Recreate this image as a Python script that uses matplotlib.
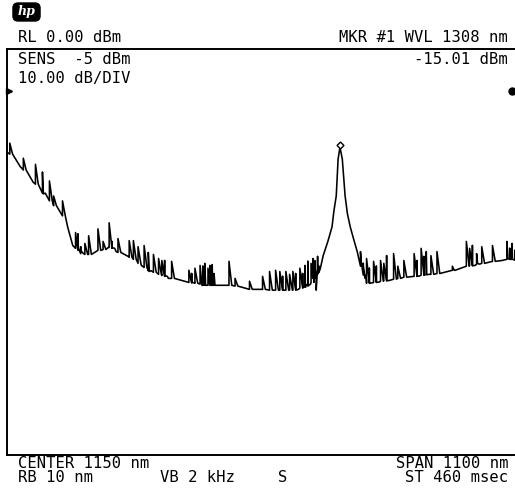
import matplotlib
matplotlib.use("Agg")
import matplotlib.pyplot as plt
from matplotlib.patches import FancyBboxPatch

# optical spectrum trace (wavelength nm, level dBm)
base_nm = [600, 628, 656, 678, 700, 719, 730, 741, 758, 773, 795, 817, 834, 860, 888, 905,
           946, 981, 1018, 1076, 1120, 1163, 1213, 1241, 1256, 1269, 1278, 1288, 1297, 1301,
           1306, 1310, 1314, 1319, 1325, 1330, 1336, 1343, 1351, 1360, 1368, 1371, 1414, 1488,
           1559, 1609, 1661, 1674, 1700]
base_dbm = [-25.4, -28.9, -32.8, -35.7, -38.6, -41.1, -43.8, -48.4, -50.4, -50.6, -49.6, -48.9,
            -49.9, -51.1, -53.3, -54.8, -56.5, -57.2, -58.2, -58.2, -59.2, -59.4, -59.4, -58.2,
            -56.5, -53.5, -50.9, -47.4, -43.8, -39.9, -36.2, -27.1, -24.2, -27.1, -36.2, -40.6,
            -43.8, -46.7, -49.9, -52.8, -56.5, -57.7, -57.0, -55.7, -54.5, -52.8, -52.1, -51.6,
            -52.3]

# noise spikes: position, tip level, foot level
spike_nm = [606, 635, 661, 676, 691, 700, 719, 747, 752, 775, 795, 806, 819, 838, 862, 871,
            881, 894, 914, 925, 938, 953, 990, 1003, 1014, 1024, 1035, 1040, 1076, 1089, 1120,
            1148, 1163, 1176, 1185, 1198, 1213, 1228, 1239, 1245, 1256, 1266, 1358, 1371, 1386,
            1401, 1414, 1429, 1451, 1473, 1488, 1499, 1509, 1522, 1555, 1585, 1598, 1618, 1641,
            1672, 1683, 1696,
            758, 767, 825, 903, 932, 996, 1020, 1031, 1044, 1191, 1206, 1219, 1234, 1252, 1260,
            1263, 1364, 1377, 1392, 1408, 1438, 1479, 1494, 1592, 1607, 1678, 1689]
spike_top = [-23.2, -26.9, -28.4, -30.3, -32.5, -36.2, -37.4, -45.2, -45.5, -46.0, -44.3, -47.4,
             -42.8, -46.7, -47.2, -47.2, -48.7, -48.4, -50.6, -51.6, -52.1, -52.3, -54.5, -54.0,
             -53.3, -52.8, -53.3, -53.1, -52.3, -56.5, -57.2, -56.0, -54.8, -54.5, -54.8, -54.8,
             -54.8, -54.0, -53.3, -52.3, -51.6, -51.1, -49.9, -51.6, -52.3, -52.1, -50.9, -50.4,
             -52.1, -50.4, -49.1, -49.9, -50.9, -49.9, -53.5, -47.4, -48.4, -48.7, -48.4, -47.4,
             -47.9, -47.9,
             -48.7, -47.9, -47.4, -50.1, -52.1, -55.3, -53.5, -54.0, -55.3, -56.0, -55.5, -55.3,
             -55.3, -52.8, -52.1, -59.4, -52.8, -54.0, -53.5, -52.8, -53.5, -52.1, -51.1, -49.1,
             -50.4, -49.1, -49.6]
spike_foot = [-25.9, -29.8, -33.3, -35.5, -37.4, -38.6, -41.1, -49.1, -49.6, -50.6, -49.6, -49.4,
              -48.9, -50.1, -51.3, -51.8, -52.8, -53.8, -55.0, -55.5, -56.0, -56.5, -57.5, -57.7,
              -57.9, -58.2, -58.2, -58.2, -58.2, -58.4, -59.2, -59.2, -59.4, -59.4, -59.4, -59.4,
              -59.4, -58.9, -58.4, -57.9, -56.5, -54.0, -53.5, -57.7, -57.5, -57.2, -57.0, -56.7,
              -56.2, -56.0, -55.7, -55.5, -55.5, -55.3, -54.5, -53.5, -53.3, -52.8, -52.3, -51.8,
              -51.8, -52.1,
              -50.4, -50.6, -49.1, -54.6, -55.8, -57.6, -58.2, -58.2, -58.2, -59.4, -59.4, -59.2,
              -58.7, -57.5, -55.5, -55.0, -55.7, -57.6, -57.4, -57.1, -56.5, -55.9, -55.6, -53.4,
              -53.0, -51.8, -52.0]

marker_nm, marker_dbm = 1314, -24.2

# merge baseline + spikes into one sweep
pts = [(n, 0, d) for n, d in zip(base_nm, base_dbm)]
for n, t, f in zip(spike_nm, spike_top, spike_foot):
    pts += [(n, 1, f), (n, 2, t), (n + 6, 3, f)]
pts.sort()
trace_x = [p[0] for p in pts]
trace_y = [p[2] for p in pts]

W, H = 515, 500
fig = plt.figure(figsize=(W / 100, H / 100), dpi=100)
ax = fig.add_axes([7 / W, 1 - 455 / H, 1.0, (455 - 49) / H])
ax.plot(trace_x, trace_y, color="black", lw=1.15)
ax.plot(marker_nm, marker_dbm + 0.6, marker="D", ms=3.5, mfc="white", mec="black", mew=1.0)
ax.set_xlim(600, 1700 + 1100 * 2 / 508)
ax.set_ylim(-100, 0)
ax.set_xticks([])
ax.set_yticks([])
ax.spines["right"].set_visible(False)
for s in ["left", "top", "bottom"]:
    ax.spines[s].set_linewidth(1.4)

font = dict(family="DejaVu Sans Mono", fontsize=11.2, color="black")


def txt(x, y, s, ha="left"):
    fig.text(x / W, 1 - y / H, s, ha=ha, va="baseline", **font)


txt(18, 42, "RL 0.00 dBm")
txt(508, 42, "MKR #1 WVL 1308 nm", "right")
txt(18, 64, "SENS  -5 dBm")
txt(508, 64, "-15.01 dBm", "right")
txt(18, 83, "10.00 dB/DIV")
txt(18, 468, "CENTER 1150 nm")
txt(508, 468, "SPAN 1100 nm", "right")
txt(18, 482, "RB 10 nm")
txt(160, 482, "VB 2 kHz")
txt(278, 482, "S")
txt(508, 482, "ST 460 msec", "right")

# reference level markers
fig.lines.append(plt.Line2D([9 / W], [1 - 91 / H], marker=">", ms=4, color="black",
                            transform=fig.transFigure))
fig.lines.append(plt.Line2D([512 / W], [1 - 91 / H], marker="o", ms=5, color="black",
                            transform=fig.transFigure))

# hp logo
logo = FancyBboxPatch((14 / W, 1 - 20 / H), 25 / W, 16 / H,
                      boxstyle="round,pad=0.002,rounding_size=0.01",
                      transform=fig.transFigure, fc="black", ec="black")
fig.patches.append(logo)
fig.text(26.5 / W, 1 - 12 / H, "hp", ha="center", va="center", color="white",
         fontsize=9, style="italic", fontweight="bold", family="DejaVu Serif")

fig.savefig("out.png", dpi=100, facecolor="white")
